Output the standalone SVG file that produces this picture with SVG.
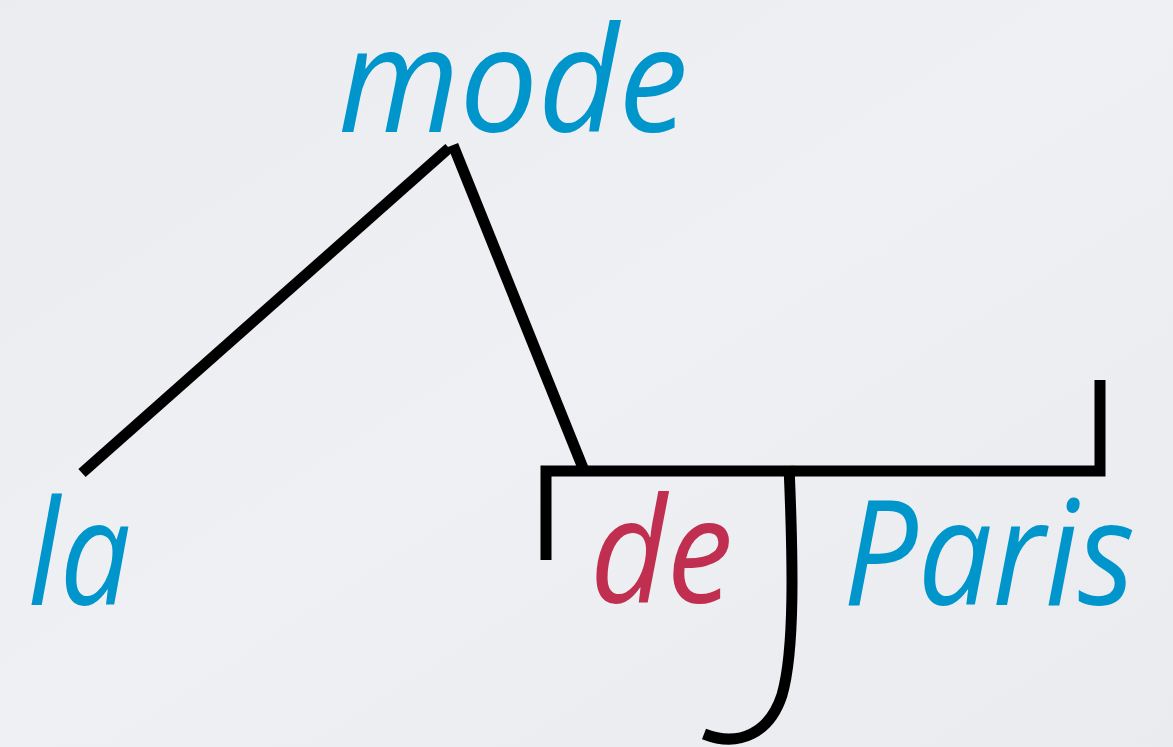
<svg xmlns="http://www.w3.org/2000/svg" width="1173" height="747" viewBox="0 0 1173 747">
<defs>
<linearGradient id="bg" x1="0" y1="0" x2="1" y2="1">
<stop offset="0" stop-color="#eaecf0"/>
<stop offset="0.5" stop-color="#eff0f4"/>
<stop offset="1" stop-color="#e9ebef"/>
</linearGradient>
<style>
.w{font-family:"Open Sans","Noto Sans",sans-serif;font-style:italic;font-weight:500;font-size:146px}
.b{fill:#0095cb}
.r{fill:#c02f50}
.l{fill:none;stroke:#000;stroke-width:11}
</style>
</defs>
<rect width="1173" height="747" fill="url(#bg)"/>
<g id="connectors">
<line class="l" x1="82" y1="473" x2="449" y2="148"/>
<line class="l" x1="453" y1="145" x2="583" y2="468"/>
<polyline class="l" points="546,560 546,471 1100,471 1100,380"/>
<path class="l" d="M789 466 C793 560 795 650 782 695 C770 732 740 748 704 734"/>
</g>
<g id="node-mode"><text class="w b" x="338" y="132" textLength="350" lengthAdjust="spacingAndGlyphs">mode</text></g>
<g id="node-la"><text class="w b" x="28" y="605" textLength="103" lengthAdjust="spacingAndGlyphs">la</text></g>
<g id="node-de"><text class="w r" x="590" y="603" textLength="143" lengthAdjust="spacingAndGlyphs">de</text></g>
<g id="node-paris"><text class="w b" x="843" y="605" textLength="292" lengthAdjust="spacingAndGlyphs">Paris</text></g>
</svg>
